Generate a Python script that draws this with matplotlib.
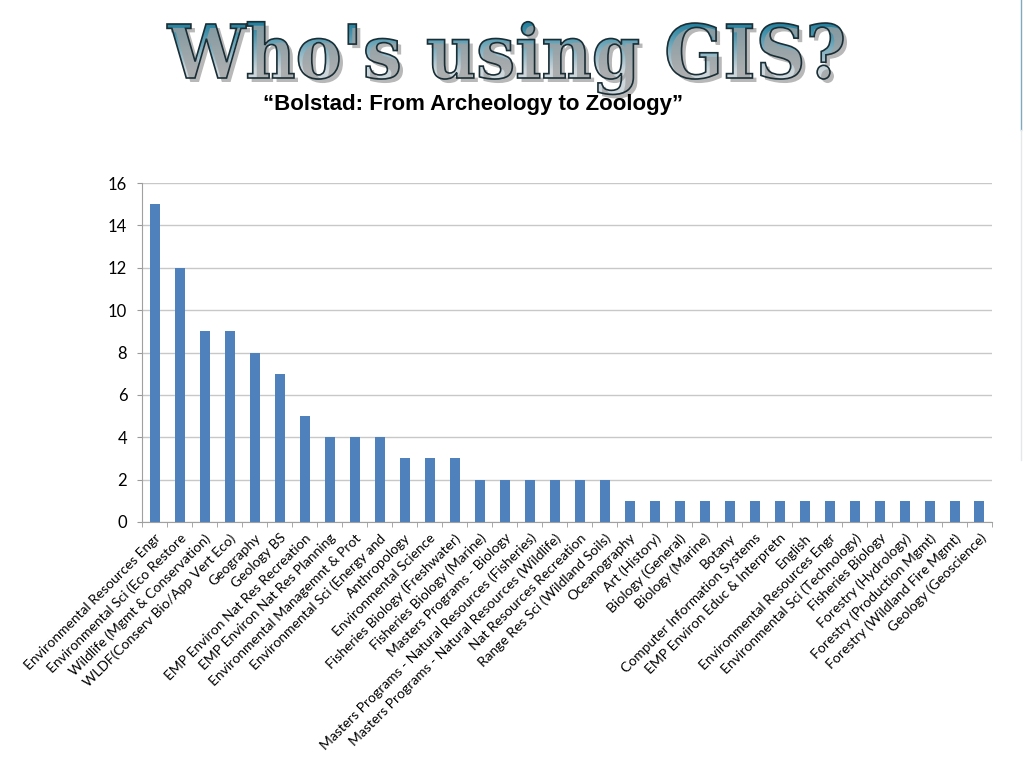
import numpy as np
import matplotlib
matplotlib.use("Agg")
import matplotlib.pyplot as plt
from matplotlib.textpath import TextPath
from matplotlib.font_manager import FontProperties
from matplotlib.patches import PathPatch
from matplotlib.transforms import Affine2D

# programs and number of GIS users in each
programs = [
    "Environmental Resources Engr",
    "Environmental Sci (Eco Restore",
    "Wildlife (Mgmt & Conservation)",
    "WLDF(Conserv Bio/App Vert Eco)",
    "Geography",
    "Geology BS",
    "EMP Environ Nat Res Recreation",
    "EMP Environ Nat Res Planning",
    "Environmental Managemnt & Prot",
    "Environmental Sci (Energy and",
    "Anthropology",
    "Environmental Science",
    "Fisheries Biology (Freshwater)",
    "Fisheries Biology (Marine)",
    "Masters Programs - Biology",
    "Masters Programs - Natural Resources (Fisheries)",
    "Masters Programs - Natural Resources (Wildlife)",
    "Nat Resources Recreation",
    "Range Res Sci (Wildland Soils)",
    "Oceanography",
    "Art (History)",
    "Biology (General)",
    "Biology (Marine)",
    "Botany",
    "Computer Information Systems",
    "EMP Environ Educ & Interpretn",
    "English",
    "Environmental Resources Engr",
    "Environmental Sci (Technology)",
    "Fisheries Biology",
    "Forestry (Hydrology)",
    "Forestry (Production Mgmt)",
    "Forestry (Wildland Fire Mgmt)",
    "Geology (Geoscience)",
]
counts = [15, 12, 9, 9, 8, 7, 5, 4, 4, 4, 3, 3, 3, 2, 2, 2, 2, 2, 2,
          1, 1, 1, 1, 1, 1, 1, 1, 1, 1, 1, 1, 1, 1, 1]
yticks = [0, 2, 4, 6, 8, 10, 12, 14, 16]

title = "Who's using GIS?"
subtitle = "\u201cBolstad: From Archeology to Zoology\u201d"

W, H = 1024, 765
fig = plt.figure(figsize=(W / 100, H / 100), dpi=100)

# chart area
ax = fig.add_axes([142 / W, 1 - 522 / H, 850 / W, 339 / H])
x = np.arange(len(programs))
ax.bar(x, counts, width=0.4, color="#4F81BD", zorder=3)
ax.set_xlim(-0.5, len(programs) - 0.5)
ax.set_ylim(0, 16)
ax.set_yticks(yticks)
ax.set_yticklabels([str(v) for v in yticks], fontsize=12, family="Lato")
ax.yaxis.grid(True, color="#C8C8C8", lw=1, zorder=0)
ax.tick_params(axis="y", length=3.6, color="#9A9A9A", pad=7)
for s in ["top", "right"]:
    ax.spines[s].set_visible(False)
ax.spines["left"].set_color("#A0A0A0")
ax.spines["bottom"].set_color("#A0A0A0")

ax.set_xticks(x)
ax.set_xticklabels(programs, rotation=45, ha="right", va="top",
                   rotation_mode="anchor", fontsize=10, family="Lato")
ax.tick_params(axis="x", which="major", length=0, pad=7)
ax.set_xticks(np.arange(len(programs) + 1) - 0.5, minor=True)
ax.tick_params(axis="x", which="minor", length=3.6, color="#9A9A9A")

# overlay in pixel coordinates for the title art
ov = fig.add_axes([0, 0, 1, 1], zorder=5)
ov.axis("off")
ov.patch.set_alpha(0)

fp = FontProperties(family="DejaVu Serif", weight="bold")
tp = TextPath((0, 0), title, size=1, prop=fp)
ext = tp.get_extents()
cap = TextPath((0, 0), "W", size=1, prop=fp).get_extents()
x0, x1 = 167, 843
base, cap_top = H - 78, H - 24
sx = (x1 - x0) / ext.width
sy = (cap_top - base) / cap.height
trans = Affine2D().translate(-ext.x0, 0).scale(sx, sy).translate(x0, base)
path = trans.transform_path(tp)

shadow = Affine2D().translate(4, -4).transform_path(path)
ov.add_patch(PathPatch(shadow, facecolor="#A0A0A0", edgecolor="none", alpha=0.75))

# teal at the cap line fading to pale grey at the baseline
grad = np.clip(np.linspace(-0.1, 1.25, 256), 0, 1).reshape(-1, 1)
top_c = np.array([0.12, 0.50, 0.62])
bot_c = np.array([0.80, 0.84, 0.86])
img = top_c + (bot_c - top_c) * grad[..., None] * np.ones((1, 2, 1))
pb = path.get_extents()
im = ov.imshow(img, extent=[pb.x0, pb.x1, base - 4, cap_top + 6], origin="upper",
               aspect="auto", interpolation="bilinear")
img2 = np.ones((2, 2, 3)) * bot_c
im2 = ov.imshow(img2, extent=[pb.x0, pb.x1, pb.y0, base - 4], aspect="auto")
im3 = ov.imshow(np.ones((2, 2, 3)) * top_c,
                extent=[pb.x0, pb.x1, cap_top + 6, pb.y1 + 1], aspect="auto")
clip = PathPatch(path, facecolor="none", edgecolor="none")
ov.add_patch(clip)
for i in (im, im2, im3):
    i.set_clip_path(clip)
ov.add_patch(PathPatch(path, facecolor="none", edgecolor="#1A2E36", lw=1.2))
ov.set_xlim(0, W)
ov.set_ylim(0, H)

ov.text(473, H - 104, subtitle, ha="center", va="center", fontsize=16,
        fontweight="bold", family="Liberation Sans")

# faint slide edge on the right
ov.plot([1021, 1021], [H, H - 130], color="#7FA9BF", lw=1)
ov.plot([1021, 1021], [H - 130, H - 460], color="#E4E8EA", lw=1)

fig.savefig("out.png", dpi=100)
